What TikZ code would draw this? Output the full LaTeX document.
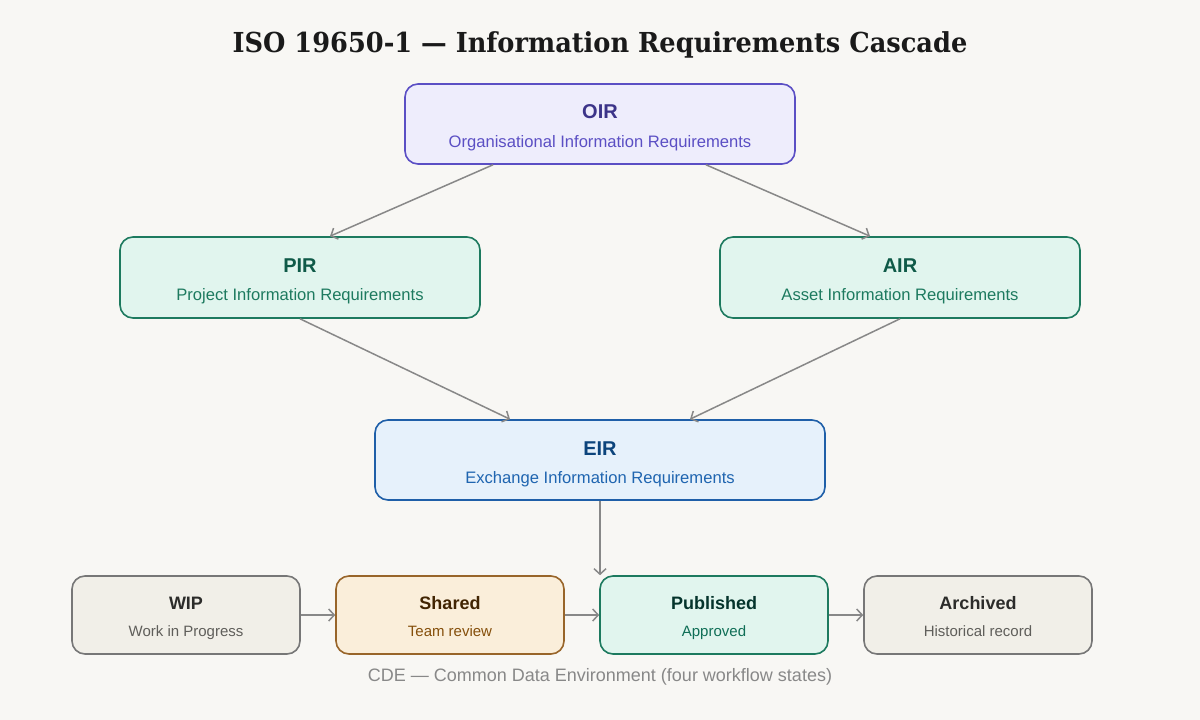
\documentclass[tikz,border=0pt]{standalone}
\usepackage{fontspec}
\setmainfont{Liberation Sans}
\newfontfamily\titlefont{DejaVu Serif}
\usetikzlibrary{arrows.meta}
\definecolor{bg}{HTML}{F8F7F4}
\definecolor{arr}{HTML}{888888}
\definecolor{ttlc}{HTML}{1A1A1A}
\definecolor{pfill}{HTML}{EEEDFC}\definecolor{pline}{HTML}{5B4FC4}\definecolor{ptitle}{HTML}{3C3489}\definecolor{psub}{HTML}{5B4FC4}
\definecolor{tfill}{HTML}{E1F5EE}\definecolor{tline}{HTML}{1D7A5F}\definecolor{ttitle}{HTML}{0F5A48}\definecolor{tsub}{HTML}{1D7A5F}
\definecolor{bfill}{HTML}{E6F1FB}\definecolor{bline}{HTML}{1F5FA8}\definecolor{btitle}{HTML}{0C447C}\definecolor{bsub}{HTML}{1F65B0}
\definecolor{gfill}{HTML}{F1EFE8}\definecolor{gline}{HTML}{777777}\definecolor{gtitle}{HTML}{2C2C2A}\definecolor{gsub}{HTML}{5F5E5A}
\definecolor{ofill}{HTML}{FAEEDA}\definecolor{oline}{HTML}{98652A}\definecolor{otitle}{HTML}{412402}\definecolor{osub}{HTML}{854F0B}
\definecolor{pubtitle}{HTML}{04342C}\definecolor{pubsub}{HTML}{0F6E56}
\definecolor{cap}{HTML}{888888}
\tikzset{
  box/.style={draw, line width=1.6pt, rounded corners=13pt, inner sep=0pt},
  bigbox/.style={box, minimum height=80pt},
  smallbox/.style={box, minimum width=228pt, minimum height=78pt},
  ttl/.style={inner sep=0pt, anchor=base, font=\bfseries\fontsize{20}{24}\selectfont},
  sub/.style={inner sep=0pt, anchor=base, font=\fontsize{16.6}{19}\selectfont},
  sttl/.style={inner sep=0pt, anchor=base, font=\bfseries\fontsize{18}{22}\selectfont},
  ssub/.style={inner sep=0pt, anchor=base, font=\fontsize{15}{18}\selectfont},
  conn/.style={draw=arr, line width=1.5pt, -{Straight Barb[length=5.5pt,width=12pt,line width=1.5pt]}},
}
\begin{document}
\begin{tikzpicture}[x=1pt,y=-1pt]
\fill[bg] (0,0) rectangle (1200,720);
\useasboundingbox (0,0) rectangle (1200,720);

\node[inner sep=0pt, anchor=base, text=ttlc, font=\titlefont\bfseries\fontsize{27.5}{30}\selectfont] (title) at (600,52) {\scalebox{0.933}[1]{ISO 19650-1 — Information Requirements Cascade}};

% main boxes
\node[bigbox, minimum width=390pt, fill=pfill, draw=pline] (oir) at (600,124) {};
\node[ttl, text=ptitle] (oirt) at (600,118) {OIR};
\node[sub, text=psub] (oirs) at (600,147) {Organisational Information Requirements};

\node[bigbox, minimum width=360pt, minimum height=81pt, fill=tfill, draw=tline] (pir) at (300,277.5) {};
\node[ttl, text=ttitle] (pirt) at (300,272) {PIR};
\node[sub, text=tsub] (pirs) at (300,300) {Project Information Requirements};

\node[bigbox, minimum width=360pt, minimum height=81pt, fill=tfill, draw=tline] (air) at (900,277.5) {};
\node[ttl, text=ttitle] (airt) at (900,272) {AIR};
\node[sub, text=tsub] (airs) at (900,300) {Asset Information Requirements};

\node[bigbox, minimum width=450pt, fill=bfill, draw=bline] (eir) at (600,460) {};
\node[ttl, text=btitle] (eirt) at (600,455) {EIR};
\node[sub, text=bsub] (eirs) at (600,483) {Exchange Information Requirements};

% CDE states
\node[smallbox, fill=gfill, draw=gline] (wip) at (186,615) {};
\node[sttl, text=gtitle] (wipt) at (186,609.5) {WIP};
\node[ssub, text=gsub] (wips) at (186,636) {Work in Progress};

\node[smallbox, fill=ofill, draw=oline] (shared) at (450,615) {};
\node[sttl, text=otitle] (sharedt) at (450,609.5) {Shared};
\node[ssub, text=osub] (shareds) at (450,636) {Team review};

\node[smallbox, fill=tfill, draw=tline] (pub) at (714,615) {};
\node[sttl, text=pubtitle] (pubt) at (714,609.5) {Published};
\node[ssub, text=pubsub] (pubs) at (714,636) {Approved};

\node[smallbox, fill=gfill, draw=gline] (arch) at (978,615) {};
\node[sttl, text=gtitle] (archt) at (978,609.5) {Archived};
\node[ssub, text=gsub] (archs) at (978,636) {Historical record};

\node[inner sep=0pt, anchor=base, text=cap, font=\fontsize{18}{21}\selectfont] (caption) at (600,681) {CDE — Common Data Environment (four workflow states)};

% connectors
\draw[conn] ([xshift=-107pt]oir.south) -- ([xshift=30pt]pir.north);
\draw[conn] ([xshift=106pt]oir.south) -- ([xshift=-30pt]air.north);
\draw[conn] (pir.south) -- ([xshift=-90pt]eir.north);
\draw[conn] (air.south) -- ([xshift=90pt]eir.north);
\draw[conn] (eir.south) -- ([xshift=-114pt]pub.north);
\draw[conn] (wip.east) -- (shared.west);
\draw[conn] (shared.east) -- (pub.west);
\draw[conn] (pub.east) -- (arch.west);
\end{tikzpicture}
\end{document}
